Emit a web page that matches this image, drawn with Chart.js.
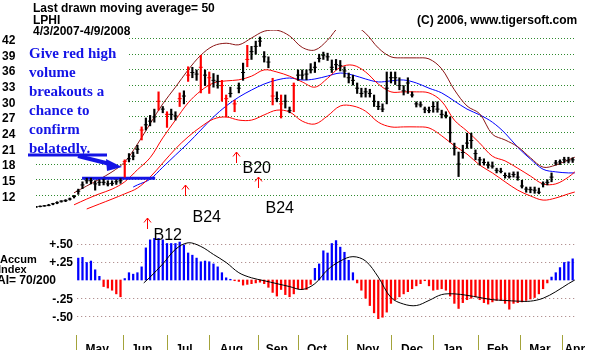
<!DOCTYPE html>
<html>
<head>
<meta charset="utf-8">
<script src="https://cdn.jsdelivr.net/npm/chart.js@4/dist/chart.umd.min.js"></script>
<style>
  html, body { margin: 0; padding: 0; background: #fff; }
  #wrap { width: 609px; height: 350px; }
</style>
</head>
<body>
<div id="wrap"><canvas id="lphiChart" width="609" height="350"></canvas></div>
<script>
// x = trading day counted from 4/3/2007 (day 0) to 4/9/2008 (day 255)
const monthNames = ['May', 'Jun', 'Jul', 'Aug', 'Sep', 'Oct', 'Nov', 'Dec', 'Jan', 'Feb', 'Mar', 'Apr'];
const monthStarts = [19, 41, 62, 82, 105, 124, 147, 168, 188, 209, 229, 249];
const monthMids = [29, 50, 70, 92.5, 114, 133, 157, 178, 197, 218.5, 238.5, 255];
const priceTicks = [12, 15, 18, 21, 24, 27, 30, 33, 36, 39, 42];
const accumTicks = [0.5, 0.25, -0.25, -0.5];
const accumTickLabels = ['+.50', '+.25', '-.25', '-.50'];

// daily bars, every second trading day
const barDays = [0,2,4,6,8,10,12,14,16,18,20,22,24,26,28,30,32,34,36,38,40,42,44,46,48,50,52,54,56,58,
  60,62,64,66,68,70,72,74,76,78,80,82,84,86,88,90,92,94,96,98,100,102,104,106,108,110,112,114,116,118,
  120,122,124,126,128,130,132,134,136,138,140,142,144,146,148,150,152,154,156,158,160,162,164,166,168,170,
  172,174,176,178,180,182,184,186,188,190,192,194,196,198,200,202,204,206,208,210,212,214,216,218,220,222,
  224,226,228,230,232,234,236,238,240,242,244,246,248,250,252,254];
const barLow = [9.7, 9.8, 9.9, 10.0, 10.2, 10.4, 10.7, 10.8, 11.1, 11.5,
  12.2, 13.3, 14.3, 14.2, 13.0, 13.9, 14.0, 13.8, 13.9, 14.1,
  14.3, 15.5, 18.4, 18.8, 20.0, 22.6, 24.5, 25.3, 26.0, 28.3,
  27.8, 25.0, 26.5, 26.4, 29.0, 29.5, 33.8, 34.5, 34.0, 31.6,
  33.0, 31.5, 32.7, 32.5, 30.0, 27.0, 30.8, 28.0, 31.6, 34.0,
  36.6, 38.0, 39.0, 40.5, 37.5, 36.4, 29.3, 29.9, 26.8, 28.7,
  27.8, 28.0, 34.0, 34.2, 34.1, 35.4, 35.5, 37.5, 38.0, 37.8,
  35.5, 36.0, 35.8, 34.6, 33.5, 33.1, 31.5, 30.8, 30.8, 30.8,
  29.0, 28.4, 28.0, 29.5, 33.5, 33.2, 32.2, 31.2, 31.5, 30.8,
  28.9, 28.9, 27.8, 27.8, 27.9, 27.9, 26.8, 26.8, 22.2, 19.7,
  15.6, 19.1, 21.0, 21.0, 18.8, 17.8, 17.8, 17.2, 17.2, 16.3,
  16.3, 15.3, 15.3, 15.5, 14.9, 13.4, 12.6, 12.5, 12.4, 12.3,
  13.6, 14.0, 14.6, 17.8, 17.9, 18.2, 18.2, 18.3];
const barHigh = [9.9, 10.0, 10.1, 10.3, 10.5, 10.8, 11.0, 11.2, 11.5, 12.0,
  13.2, 14.6, 15.3, 15.3, 14.8, 15.0, 15.1, 14.8, 14.8, 15.0,
  15.2, 18.8, 20.0, 20.3, 21.6, 25.1, 26.8, 27.3, 28.5, 31.8,
  29.0, 28.0, 28.5, 28.0, 31.6, 32.0, 36.6, 36.5, 36.0, 38.8,
  36.0, 35.6, 35.3, 35.0, 34.0, 31.2, 32.7, 30.2, 33.5, 37.3,
  40.7, 40.5, 41.5, 42.3, 39.5, 38.5, 34.4, 31.8, 31.2, 31.2,
  28.9, 33.5, 36.0, 36.0, 36.0, 37.2, 37.5, 39.0, 39.4, 39.2,
  37.9, 38.0, 37.8, 36.6, 35.4, 35.0, 33.5, 32.5, 32.5, 32.3,
  31.2, 30.0, 29.5, 35.6, 35.6, 35.6, 34.5, 33.0, 34.5, 31.8,
  29.9, 29.9, 28.9, 28.9, 29.9, 29.9, 28.3, 28.0, 27.0, 22.0,
  20.3, 21.6, 23.9, 23.9, 20.7, 19.3, 19.0, 18.4, 18.4, 17.2,
  17.2, 16.3, 16.3, 16.5, 16.5, 14.9, 13.6, 13.6, 13.6, 13.4,
  14.6, 15.0, 16.3, 18.7, 18.8, 19.3, 19.3, 19.2];
const barClose = [9.8, 9.9, 10.0, 10.1, 10.4, 10.6, 10.9, 11.0, 11.3, 11.8,
  12.8, 14.0, 14.8, 14.8, 14.2, 14.5, 14.5, 14.2, 14.3, 14.6,
  14.8, 18.5, 19.0, 19.5, 20.8, 24.5, 25.5, 26.2, 27.0, 30.0,
  28.5, 27.5, 27.5, 27.2, 30.5, 31.0, 35.0, 35.5, 35.2, 36.5,
  35.0, 34.5, 34.0, 33.8, 33.0, 30.5, 31.5, 29.5, 32.5, 35.5,
  38.0, 39.5, 40.5, 41.5, 38.5, 37.5, 31.0, 30.5, 29.5, 30.0,
  28.2, 33.0, 35.0, 35.0, 35.2, 36.0, 36.5, 38.2, 38.8, 38.5,
  36.5, 37.0, 36.8, 35.8, 34.5, 34.0, 32.5, 31.5, 31.8, 31.5,
  30.0, 29.0, 28.5, 32.5, 34.5, 34.5, 33.0, 32.0, 33.5, 31.2,
  29.5, 29.3, 28.5, 28.2, 29.0, 28.5, 27.5, 27.3, 24.0, 21.0,
  18.0, 20.2, 22.0, 22.5, 20.0, 18.8, 18.3, 17.8, 17.6, 16.8,
  16.6, 15.8, 15.6, 16.0, 15.5, 13.8, 13.2, 13.1, 13.0, 12.6,
  14.2, 14.5, 15.5, 18.2, 18.4, 18.8, 18.6, 18.8];
// high-volume days drawn in red
const redDays = [42, 50, 58, 62, 68, 72, 78, 82, 88, 90, 94, 100, 112, 116, 122];

// bands around the 21-day average, and the 50-day average
const upperDays = [18,24,30,36,42,48,54,60,66,72,78,84,90,96,102,108,114,120,126,132,138,144,150,156,162,168,174,180,186,192,198,204,210,216,222,228,234,240,246,252,255];
const upperBand = [12.5, 13.8, 15.1, 16.5, 18.4, 21.8, 25.7, 29.5, 32.7, 36.0, 38.8, 40.6, 41.1, 40.8, 42.1, 43.4, 43.6, 42.5, 40.3, 39.8,
  41.7, 44.4, 44.6, 43.0, 40.2, 38.5, 38.3, 38.3, 38.1, 36.2, 32.2, 29.1, 27.6, 23.7, 22.6, 21.3, 19.2, 17.4, 17.8, 18.8, 19.3];
const midBand = [10.2, 11.3, 12.3, 13.2, 14.6, 16.9, 19.2, 23.0, 26.4, 29.7, 32.0, 33.5, 33.9, 34.1, 34.8, 36.0, 35.6, 34.8, 33.7, 32.7,
  34.4, 36.5, 36.9, 35.6, 33.3, 31.8, 31.8, 31.8, 31.6, 30.0, 26.4, 24.3, 22.0, 19.5, 18.6, 17.2, 15.7, 14.2, 14.2, 15.5, 16.5];
const lowerDays = [24,30,36,42,48,54,60,66,72,78,84,90,96,102,108,114,120,126,132,138,144,150,156,162,168,174,180,186,192,198,204,210,216,222,228,234,240,246,252,255];
const lowerBand = [9.4, 10.35, 11.3, 12.3, 13.4, 15.5, 18.2, 20.9, 23.2, 25.1, 26.6, 27.0, 26.4, 26.4, 27.4, 28.3, 27.95, 26.2, 25.65, 27.2,
  29.1, 29.1, 28.1, 26.0, 25.1, 25.1, 25.1, 24.9, 23.4, 21.5, 19.9, 17.8, 16.3, 14.6, 13.0, 11.9, 11.1, 11.5, 12.3, 12.65];
const ma50Days = [46,48,54,60,66,72,78,84,90,96,102,108,114,120,126,132,138,144,150,156,162,168,174,180,186,192,198,204,210,216,222,228,234,240,246,252,255];
const ma50 = [13.6, 14.0, 15.1, 17.4, 19.7, 22.0, 24.5, 27.0, 29.1, 30.8, 32.15, 33.3, 34.07, 34.45, 34.07, 34.26, 34.83, 35.4, 35.0, 34.26,
  33.7, 33.9, 34.07, 33.5, 32.5, 31.6, 30.05, 28.5, 27.4, 26.0, 23.9, 21.2, 18.96, 17.0, 16.5, 16.3, 16.3];

// hand-drawn support line
const supportDays = [21.8, 56.4];
const supportPrices = [15.3, 15.3];

// accumulation index
const accDays = [20,22,24,26,28,30,32,34,36,38,40,42,44,46,48,50,52,54,56,58,60,62,64,66,68,70,72,74,76,78,
  80,82,84,86,88,90,92,94,96,98,100,102,104,106,108,110,112,114,116,118,120,122,124,126,128,130,132,134,136,138,
  140,142,144,146,148,150,152,154,156,158,160,162,164,166,168,170,172,174,176,178,180,182,184,186,188,190,192,194,196,198,
  200,202,204,206,208,210,212,214,216,218,220,222,224,226,228,230,232,234,236,238,240,242,244,246,248,250,252,254];
const accValues = [0.30, 0.31, 0.24, 0.26, 0.14, 0.05, -0.09, -0.11, -0.14, -0.19,
  -0.23, 0.02, 0.10, 0.08, 0.10, 0.18, 0.44, 0.55, 0.57, 0.57,
  0.55, 0.50, 0.50, 0.50, 0.52, 0.48, 0.37, 0.34, 0.30, 0.25,
  0.26, 0.25, 0.22, 0.18, 0.10, 0.03, 0.01, -0.01, -0.02, -0.07,
  -0.06, -0.05, -0.04, -0.03, -0.05, -0.10, -0.17, -0.22, -0.13, -0.20,
  -0.23, -0.19, -0.12, -0.13, -0.13, -0.06, 0.16, 0.22, 0.40, 0.37,
  0.50, 0.54, 0.45, 0.38, 0.27, 0.10, -0.04, -0.14, -0.25, -0.35,
  -0.45, -0.53, -0.51, -0.44, -0.32, -0.27, -0.23, -0.19, -0.16, -0.12,
  -0.08, -0.05, -0.01, -0.08, -0.14, -0.13, -0.12, -0.14, -0.22, -0.32,
  -0.39, -0.31, -0.27, -0.25, -0.23, -0.27, -0.31, -0.33, -0.30, -0.28,
  -0.28, -0.32, -0.40, -0.32, -0.31, -0.30, -0.28, -0.26, -0.24, -0.19,
  -0.12, -0.04, 0.04, 0.10, 0.17, 0.24, 0.25, 0.29];
const accMaDays = [51,54,60,66,72,78,84,90,96,102,108,114,120,126,132,138,144,150,156,162,168,174,180,186,192,198,204,210,216,222,228,234,240,246,252,255];
const accMa = [-0.04, 0.04, 0.22, 0.42, 0.51, 0.46, 0.35, 0.24, 0.10, 0.03, -0.01, -0.05, -0.09, -0.13, -0.05, 0.14, 0.26, 0.32, 0.26, 0.04,
  -0.24, -0.33, -0.35, -0.28, -0.20, -0.19, -0.21, -0.24, -0.27, -0.28, -0.29, -0.29, -0.25, -0.16, -0.05, 0.0];

// buy signals (arrow tip on the price scale)
const signalDays = [52.6, 70.6, 94.7, 105.1];
const signalPrices = [7.7, 14.0, 20.3, 15.5];
const signalNames = ['B12', 'B24', 'B20', 'B24'];

const noteLines = ['Give red high', 'volume', 'breakouts a', 'chance to', 'confirm', 'belatedly.'];

const SANS = '"Liberation Sans", Arial, sans-serif';
const SERIF = '"Liberation Serif", "Times New Roman", serif';

function pts(days, vals) {
  return days.map((d, i) => ({ x: d, y: vals[i] }));
}

const barColors = barDays.map(d => redDays.includes(d) ? '#ff0000' : '#000000');
const accColors = accValues.map(v => v >= 0 ? '#0000ff' : '#ff0000');

const overlay = {
  id: 'overlay',
  beforeDatasetsDraw(chart) {
    const { ctx, chartArea } = chart;
    const xs = chart.scales.x, acc = chart.scales.acc;
    ctx.save();
    // blank patch under the note
    ctx.fillStyle = '#ffffff';
    ctx.fillRect(chartArea.left, chartArea.top, 92, 126);
    // accumulation grid
    ctx.setLineDash([1, 3]);
    ctx.strokeStyle = '#a07878';
    ctx.lineWidth = 1;
    accumTicks.forEach(v => {
      const y = Math.round(acc.getPixelForValue(v)) + 0.5;
      ctx.beginPath();
      ctx.moveTo(xs.getPixelForValue(19.5), y);
      ctx.lineTo(chartArea.right, y);
      ctx.stroke();
    });
    ctx.restore();
  },
  afterDatasetsDraw(chart) {
    const { ctx } = chart;
    const xs = chart.scales.x, price = chart.scales.price, acc = chart.scales.acc;
    ctx.save();
    ctx.fillStyle = '#000';
    ctx.textBaseline = 'alphabetic';
    ctx.font = 'bold 12px ' + SANS;
    ctx.fillText('Last drawn moving average= 50', 33, 12);
    ctx.fillText('LPHI', 33, 24);
    ctx.fillText('4/3/2007-4/9/2008', 33, 35);
    ctx.fillText('(C) 2006, www.tigersoft.com', 417, 24);

    // accumulation labels
    ctx.font = 'bold 11px ' + SANS;
    ctx.fillText('Accum', 0, 263);
    ctx.fillText('Index', -2, 273);
    ctx.font = 'bold 12px ' + SANS;
    ctx.fillText('AI= 70/200', -3, 284);
    ctx.textAlign = 'right';
    ctx.textBaseline = 'middle';
    accumTicks.forEach((v, i) => {
      ctx.fillText(accumTickLabels[i], 73, acc.getPixelForValue(v) + 1);
    });

    // note in blue
    ctx.textAlign = 'left';
    ctx.textBaseline = 'alphabetic';
    ctx.fillStyle = '#1414e6';
    ctx.font = 'bold 15px ' + SERIF;
    noteLines.forEach((t, i) => ctx.fillText(t, 29, 58 + i * 19));

    // note arrow
    ctx.strokeStyle = '#1414e6';
    ctx.lineWidth = 3;
    ctx.beginPath();
    ctx.moveTo(28, 155);
    ctx.lineTo(107, 155);
    ctx.stroke();
    ctx.lineWidth = 4;
    ctx.beginPath();
    ctx.moveTo(78, 156);
    ctx.lineTo(110, 164);
    ctx.stroke();
    ctx.beginPath();
    ctx.moveTo(106, 159);
    ctx.lineTo(122, 167);
    ctx.lineTo(107, 171);
    ctx.closePath();
    ctx.fill();

    // buy signals
    const shift = [[6, 22], [7, 37], [6, 21], [7, 36]];
    ctx.strokeStyle = '#ff0000';
    ctx.lineWidth = 1;
    ctx.font = '16px ' + SANS;
    ctx.fillStyle = '#000';
    signalDays.forEach((d, i) => {
      const x = Math.round(xs.getPixelForValue(d)) + 0.5;
      const y = Math.round(price.getPixelForValue(signalPrices[i]));
      ctx.beginPath();
      ctx.moveTo(x, y);
      ctx.lineTo(x, y + 11);
      ctx.moveTo(x - 3.5, y + 4.5);
      ctx.lineTo(x, y);
      ctx.lineTo(x + 3.5, y + 4.5);
      ctx.stroke();
      ctx.fillText(signalNames[i], x + shift[i][0], y + shift[i][1]);
    });

    // month separators
    ctx.strokeStyle = '#a3a33a';
    ctx.lineWidth = 1;
    monthStarts.forEach(d => {
      const x = Math.round(xs.getPixelForValue(d)) + 0.5;
      ctx.beginPath();
      ctx.moveTo(x, 335);
      ctx.lineTo(x, 350);
      ctx.stroke();
    });
    ctx.restore();
  }
};

const ctx = document.getElementById('lphiChart').getContext('2d');
new Chart(ctx, {
  type: 'bar',
  data: {
    datasets: [
      { type: 'bar', label: 'LPHI', yAxisID: 'price', order: 0,
        data: barDays.map((d, i) => ({ x: d, y: [barLow[i], barHigh[i]] })),
        backgroundColor: barColors, barThickness: 1.5, grouped: false },
      { type: 'line', label: 'Close', yAxisID: 'price', order: 0,
        data: pts(barDays, barClose), showLine: false,
        pointStyle: 'line', pointRadius: 2, pointBorderWidth: 1,
        pointBorderColor: barColors, pointBackgroundColor: barColors },
      { type: 'line', label: 'Upper band', yAxisID: 'price', order: 2,
        data: pts(upperDays, upperBand), borderColor: '#8b1414', borderWidth: 1, pointRadius: 0, tension: 0.35 },
      { type: 'line', label: '21-day', yAxisID: 'price', order: 2,
        data: pts(upperDays, midBand), borderColor: '#ff0000', borderWidth: 1, pointRadius: 0, tension: 0.35 },
      { type: 'line', label: 'Lower band', yAxisID: 'price', order: 2,
        data: pts(lowerDays, lowerBand), borderColor: '#ff0000', borderWidth: 1, pointRadius: 0, tension: 0.35 },
      { type: 'line', label: '50-day', yAxisID: 'price', order: 2,
        data: pts(ma50Days, ma50), borderColor: '#0000ff', borderWidth: 1, pointRadius: 0, tension: 0.35 },
      { type: 'line', label: 'Support', yAxisID: 'price', order: 1,
        data: pts(supportDays, supportPrices), borderColor: '#1414e6', borderWidth: 3, pointRadius: 0 },
      { type: 'bar', label: 'Accum', yAxisID: 'acc', order: 3,
        data: pts(accDays, accValues), backgroundColor: accColors, barThickness: 1.6, grouped: false },
      { type: 'line', label: 'Accum MA', yAxisID: 'acc', order: 1,
        data: pts(accMaDays, accMa), borderColor: '#000000', borderWidth: 1, pointRadius: 0, tension: 0.35 }
    ]
  },
  options: {
    responsive: false,
    devicePixelRatio: 1,
    animation: false,
    events: [],
    layout: { padding: { left: 2, right: 34, top: 30, bottom: 0 } },
    plugins: { legend: { display: false }, tooltip: { enabled: false } },
    scales: {
      x: {
        type: 'linear', min: 0, max: 255.1, offset: false,
        grid: { display: false }, border: { display: false },
        afterBuildTicks: s => { s.ticks = monthMids.map(v => ({ value: v })); },
        afterFit: s => { s.height = 20; },
        ticks: { autoSkip: false, maxRotation: 0, padding: 4, color: '#000',
          font: { family: SANS, size: 12, weight: 'bold' },
          callback: (v, i) => monthNames[i] }
      },
      price: {
        type: 'linear', position: 'left', min: -13.74, max: 43.63,
        afterBuildTicks: s => { s.ticks = priceTicks.map(v => ({ value: v })); },
        afterFit: s => { s.width = 34; },
        grid: { color: '#2f8a2f', lineWidth: 1, drawTicks: false, borderDash: [1, 2] },
        border: { display: false, dash: [1, 2] },
        ticks: { crossAlign: 'far', labelOffset: 2, padding: 0, color: '#000',
          font: { family: SANS, size: 12, weight: 'bold' } }
      },
      acc: {
        type: 'linear', position: 'right', display: false, min: -0.685, max: 3.425
      }
    }
  },
  plugins: [overlay]
});
</script>
</body>
</html>
